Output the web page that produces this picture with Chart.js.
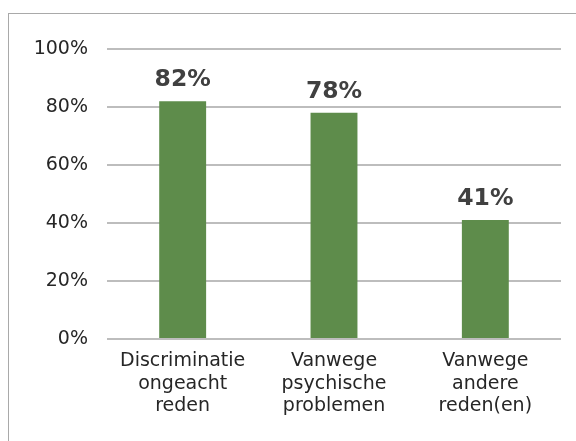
<!DOCTYPE html>
<html>
<head>
<meta charset="utf-8">
<script src="https://cdn.jsdelivr.net/npm/chart.js@4"></script>
<style>
  html, body { margin: 0; padding: 0; background: #fff; overflow: hidden; }
  #frame { position: absolute; left: 8px; top: 13px; width: 700px; height: 600px; border: 1px solid #a9a9a9; }
  #wrap { position: absolute; left: 0; top: 0; width: 576px; height: 441px; }
</style>
</head>
<body>
<div id="frame"></div>
<div id="wrap"><canvas id="chart" width="576" height="441"></canvas></div>
<script>
const categories = [
  ['Discriminatie', 'ongeacht', 'reden'],
  ['Vanwege', 'psychische', 'problemen'],
  ['Vanwege', 'andere', 'reden(en)']
];
const values = [82, 78, 41];
const yTicks = [0, 20, 40, 60, 80, 100];

// waarde boven elke staaf
const barLabels = {
  id: 'barLabels',
  afterDatasetsDraw(chart) {
    const ctx = chart.ctx;
    const meta = chart.getDatasetMeta(0);
    ctx.save();
    ctx.font = 'bold 23.5px "DejaVu Sans"';
    ctx.fillStyle = '#404040';
    ctx.textAlign = 'center';
    ctx.textBaseline = 'alphabetic';
    meta.data.forEach((bar, i) => {
      ctx.fillText(values[i] + '%', bar.x, bar.y - 15);
    });
    ctx.restore();
  }
};

new Chart(document.getElementById('chart'), {
  type: 'bar',
  data: {
    labels: categories,
    datasets: [{
      data: values,
      backgroundColor: '#5e8c4b',
      barPercentage: 0.31,
      categoryPercentage: 1
    }]
  },
  options: {
    responsive: false,
    animation: false,
    layout: { padding: { left: 0, right: 15, top: 49, bottom: 0 } },
    plugins: { legend: { display: false }, tooltip: { enabled: false } },
    scales: {
      x: {
        grid: { display: false },
        border: { display: false },
        ticks: {
          color: '#262626',
          font: { family: 'DejaVu Sans', size: 19, lineHeight: 1.18 },
          padding: 3,
          maxRotation: 0,
          autoSkip: false
        },
        afterFit(scale) { scale.height = 102; }
      },
      y: {
        min: 0,
        max: 100,
        afterBuildTicks(scale) { scale.ticks = yTicks.map(v => ({ value: v })); },
        grid: { color: '#bdbdbd', lineWidth: 2, drawTicks: false },
        border: { display: false },
        ticks: {
          color: '#262626',
          font: { family: 'DejaVu Sans', size: 19 },
          padding: 19,
          callback: v => v + '%'
        },
        afterFit(scale) { scale.width = 107; }
      }
    }
  },
  plugins: [barLabels]
});
</script>
</body>
</html>
